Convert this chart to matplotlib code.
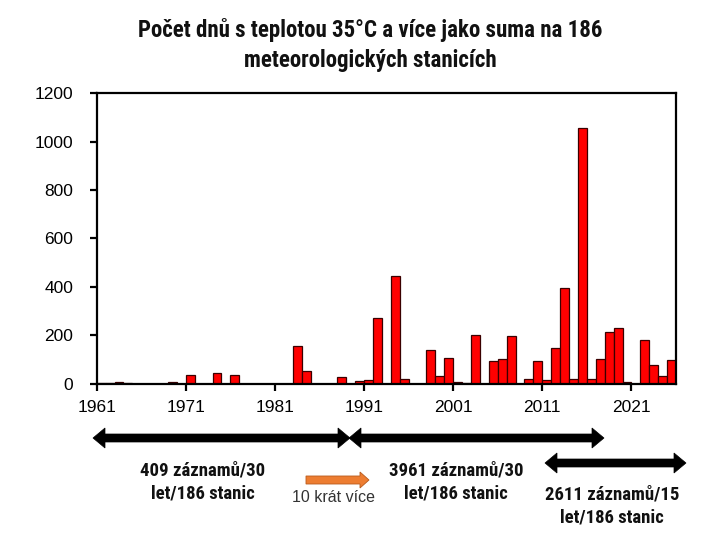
import matplotlib
matplotlib.use("Agg")
import matplotlib.pyplot as plt
from matplotlib.patches import Polygon

years = list(range(1961, 2026))
values = [2, 4, 6, 3, 0, 0, 0, 0, 5, 0,
          35, 0, 0, 43, 0, 37, 0, 0, 0, 0,
          0, 0, 156, 51, 0, 0, 0, 28, 0, 10,
          14, 269, 0, 443, 19, 0, 0, 138, 32, 106,
          5, 3, 202, 0, 93, 101, 196, 0, 19, 93,
          14, 147, 395, 19, 1055, 19, 102, 214, 230, 8,
          0, 179, 76, 33, 96]
tick_labels = ["1961", "1971", "1981", "1991", "2001", "2011", "2021"]
y_ticks = [0, 200, 400, 600, 800, 1000, 1200]
title = "Počet dnů s teplotou 35°C a více jako suma na 186\nmeteorologických stanicích"
period_texts = ["409 záznamů/30\nlet/186 stanic",
                "3961 záznamů/30\nlet/186 stanic",
                "2611 záznamů/15\nlet/186 stanic"]
ratio_text = "10 krát více"

W, H = 720, 539
fig = plt.figure(figsize=(W / 100, H / 100), dpi=100)
ax = fig.add_axes([96.7 / W, 1 - 383.5 / H, (676 - 96.7) / W, (383.5 - 93.3) / H])

pos = [i + 0.5 for i in range(len(years))]
ax.bar(pos, values, width=1.0, color="#FF0000", edgecolor="#3a0000", linewidth=0.9, zorder=2)
ax.set_xlim(0, len(years))
ax.set_ylim(0, 1200)
ax.set_xticks([years.index(int(t)) for t in tick_labels])
ax.set_xticklabels(tick_labels)
ax.set_yticks(y_ticks)
ax.set_yticklabels([str(v) for v in y_ticks])
for s in ax.spines.values():
    s.set_linewidth(1.6)
    s.set_color("black")
ax.tick_params(axis="both", direction="out", length=5, width=1.6, labelsize=12.5,
               colors="black")
ax.tick_params(axis="y", pad=12)
ax.tick_params(axis="x", pad=7)
for lab in ax.get_xticklabels() + ax.get_yticklabels():
    lab.set_fontfamily(["Liberation Sans", "DejaVu Sans"])

narrow = ["Liberation Sans Narrow", "Roboto Condensed", "Liberation Sans", "DejaVu Sans"]
fig.text(370 / W, 1 - 45 / H, title, ha="center", va="center", fontsize=16.5,
         fontweight="bold", family=narrow, linespacing=1.4, color="#111111")


def px(x, y):
    return (x / W, 1 - y / H)


def double_arrow(x0, x1, y, color="black", sh=4.0, hh=10.0, hl=12.0):
    pts = [(x0, y), (x0 + hl, y - hh), (x0 + hl, y - sh), (x1 - hl, y - sh),
           (x1 - hl, y - hh), (x1, y), (x1 - hl, y + hh), (x1 - hl, y + sh),
           (x0 + hl, y + sh), (x0 + hl, y + hh)]
    fig.patches.append(Polygon([px(a, b) for a, b in pts], closed=True,
                               transform=fig.transFigure, facecolor=color,
                               edgecolor=color, linewidth=0.5))


def single_arrow(x0, x1, y, color, sh=4.0, hh=8.0, hl=9.0):
    pts = [(x0, y - sh), (x1 - hl, y - sh), (x1 - hl, y - hh), (x1, y),
           (x1 - hl, y + hh), (x1 - hl, y + sh), (x0, y + sh)]
    fig.patches.append(Polygon([px(a, b) for a, b in pts], closed=True,
                               transform=fig.transFigure, facecolor=color,
                               edgecolor="#b85a1c", linewidth=0.6))


double_arrow(93, 350, 438)
double_arrow(349, 604, 438)
double_arrow(545, 686, 463)
single_arrow(306, 369, 480, "#ED7D31")

kw = dict(ha="center", va="center", fontsize=13.5, fontweight="bold", family=narrow,
          linespacing=1.35, color="#111111")
fig.text(*px(203, 482), period_texts[0], **kw)
fig.text(*px(456, 482), period_texts[1], **kw)
fig.text(*px(612, 506), period_texts[2], **kw)
fig.text(*px(334, 498), ratio_text, ha="center", va="center", fontsize=11.5,
         family=["Liberation Sans", "DejaVu Sans"], color="#333333")

fig.savefig("out.png", dpi=100, facecolor="white")
